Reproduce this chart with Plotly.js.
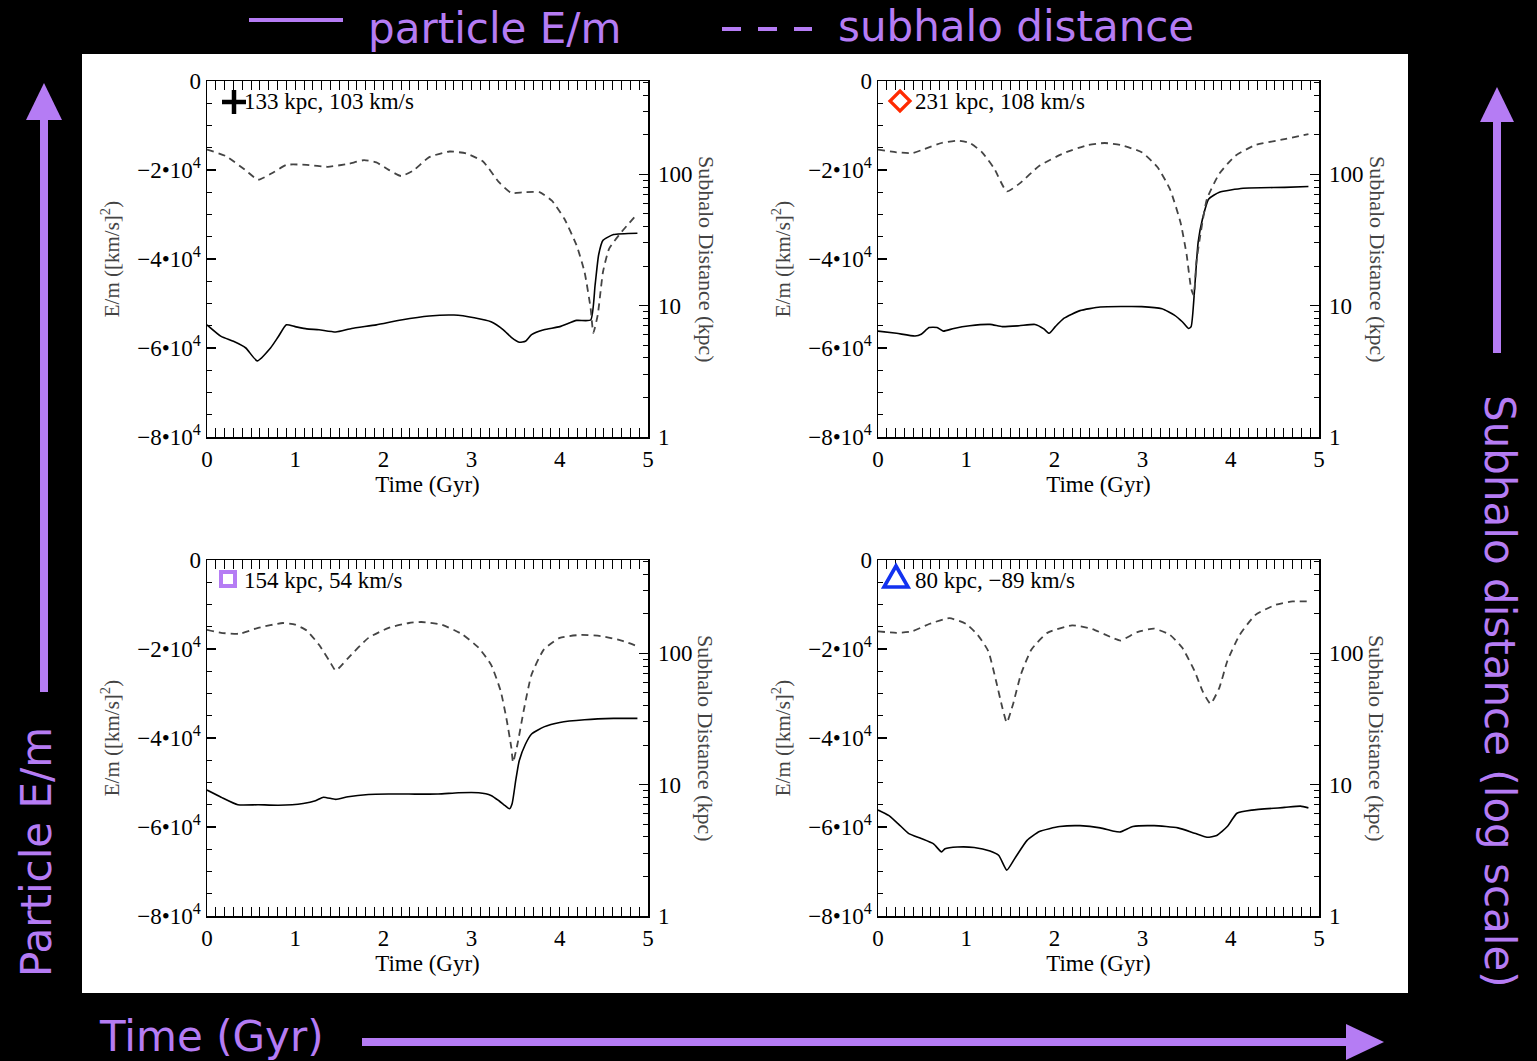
<!DOCTYPE html>
<html><head><meta charset="utf-8">
<script src="https://cdn.plot.ly/plotly-3.0.1.min.js"></script>
<style>html,body{margin:0;padding:0;background:#000;overflow:hidden}#chart{width:1537px;height:1061px}</style>
</head><body><div id="chart"></div><script>
// ---------- data ----------
const panelKeys = ["133 kpc, 103 km/s", "231 kpc, 108 km/s", "154 kpc, 54 km/s", "80 kpc, \u221289 km/s"];

const timeE_A = [0,0.16,0.30,0.44,0.57,0.72,0.81,0.90,1.00,1.13,1.27,1.46,1.64,1.92,2.20,2.52,2.80,3.03,3.22,3.36,3.45,3.54,3.61,3.68,3.82,4.00,4.19,4.35,4.40,4.44,4.49,4.61,4.88];
const energy_A = [-54800,-57400,-58500,-60000,-62900,-60000,-57400,-54800,-55200,-55700,-55900,-56400,-55600,-54800,-53700,-52800,-52600,-53200,-54100,-55900,-57600,-58700,-58500,-57000,-55900,-55200,-53800,-53700,-45900,-39100,-35800,-34500,-34200];
const timeD_A = [0,0.21,0.44,0.58,0.76,0.90,1.13,1.37,1.60,1.78,1.92,2.06,2.20,2.34,2.52,2.75,2.94,3.13,3.31,3.45,3.59,3.77,3.91,4.05,4.19,4.28,4.35,4.38,4.43,4.49,4.56,4.70,4.88];
const dist_A = [154,138,107,91,104,118,118,114,120,128,123,108,97,107,135,149,144,125,87,72,73,73,63,46,28.8,18.1,9.5,6.2,8.5,18.1,27.2,36.4,50];

const timeE_B = [0,0.21,0.42,0.49,0.58,0.67,0.74,0.86,1.04,1.27,1.41,1.60,1.78,1.88,1.94,2.01,2.11,2.29,2.52,2.99,3.22,3.36,3.45,3.52,3.55,3.59,3.63,3.68,3.75,3.87,4.14,4.61,4.88];
const energy_B = [-56200,-56700,-57300,-56900,-55400,-55400,-56200,-55600,-55000,-54700,-55200,-55000,-54700,-55700,-56700,-55200,-53300,-51600,-50800,-50700,-51200,-52600,-54100,-55600,-55200,-46600,-36200,-30900,-26500,-25000,-24100,-23900,-23700];
const timeD_B = [0,0.21,0.39,0.53,0.72,0.90,1.04,1.18,1.32,1.46,1.60,1.83,2.11,2.38,2.57,2.75,2.99,3.17,3.31,3.43,3.50,3.55,3.58,3.61,3.66,3.73,3.87,4.05,4.28,4.61,4.88];
const dist_B = [154,147,145,156,173,180,173,147,110,74,84.5,116,145,167,173,167,147,113,77,43,24.2,13.5,12.0,21.5,36.4,65,101,138,167,185,202];

const timeE_C = [0,0.16,0.35,0.58,0.81,1.09,1.23,1.32,1.46,1.60,1.83,2.06,2.29,2.62,2.85,3.08,3.22,3.31,3.38,3.43,3.46,3.50,3.54,3.61,3.68,3.82,4.00,4.28,4.61,4.88];
const energy_C = [-51700,-53300,-55000,-55000,-55100,-54700,-54100,-53300,-53800,-53200,-52700,-52600,-52600,-52600,-52300,-52300,-52900,-54100,-55200,-55900,-54700,-49600,-45100,-41400,-39100,-37500,-36500,-35900,-35600,-35600];
const timeD_C = [0,0.16,0.37,0.58,0.86,1.00,1.13,1.27,1.39,1.46,1.60,1.83,2.06,2.29,2.43,2.66,2.89,3.08,3.22,3.33,3.40,3.45,3.47,3.52,3.59,3.68,3.82,4.00,4.24,4.47,4.70,4.88];
const dist_C = [151,143,141,156,170,165,149,116,87,74,92,131,156,170,173,165,140,110,82,51.5,30.5,19.2,14.8,20.3,36.4,69,107,131,138,135,125,113];

const timeE_D = [0,0.12,0.23,0.35,0.49,0.63,0.72,0.76,0.90,1.09,1.27,1.37,1.46,1.55,1.69,1.83,2.06,2.29,2.52,2.66,2.75,2.89,3.13,3.40,3.59,3.73,3.84,3.96,4.07,4.24,4.61,4.79,4.88];
const energy_D = [-56200,-57400,-59300,-61500,-62600,-63800,-65600,-64900,-64500,-64600,-65400,-66400,-69700,-67100,-63000,-61000,-59900,-59700,-60200,-60900,-61100,-59900,-59700,-60200,-61400,-62300,-61900,-59900,-56900,-56200,-55600,-55300,-55700];
const timeD_D = [0,0.21,0.39,0.58,0.81,1.00,1.13,1.25,1.34,1.41,1.46,1.53,1.62,1.74,1.92,2.20,2.43,2.66,2.75,2.94,3.13,3.31,3.45,3.59,3.68,3.77,3.87,3.96,4.10,4.28,4.51,4.70,4.88];
const dist_D = [147,143,147,167,185,167,138,104,61,38.5,29.7,40.8,69,107,143,163,153,131,125,145,154,138,110,73,51.5,41.3,54.6,87,138,196,234,248,248];

const energyTickVals = [-80000,-60000,-40000,-20000,0];
const energyTickText = ["\u22128\u202210<sup>4</sup>","\u22126\u202210<sup>4</sup>","\u22124\u202210<sup>4</sup>","\u22122\u202210<sup>4</sup>","0"];
const distTickVals = [1,10,100];
const distTickText = ["1","10","100"];
const distMinorVals = [2,3,4,5,6,7,8,9,20,30,40,50,60,70,80,90,200,300,400,500];
const timeTickVals = [0,1,2,3,4,5];

// ---------- layout helpers ----------
const W = 1537, H = 1061;
const px = x => x / W;
const py = y => 1 - y / H;
const PURPLE = "#B57CF4";
const SERIF = "Liberation Serif, Times New Roman, serif";
const SANS = "DejaVu Sans, Arial, sans-serif";

const panelX = [[207,648],[878,1319],[207,648],[878,1319]];
const panelY = [[81,437],[81,437],[560,916],[560,916]];
const energies = [[timeE_A,energy_A],[timeE_B,energy_B],[timeE_C,energy_C],[timeE_D,energy_D]];
const dists = [[timeD_A,dist_A],[timeD_B,dist_B],[timeD_C,dist_C],[timeD_D,dist_D]];

const traces = [];
const layout = {
  width: W, height: H,
  margin: {l:0, r:0, t:0, b:0, pad:0},
  paper_bgcolor: "#000", plot_bgcolor: "#fff",
  showlegend: false,
  shapes: [], annotations: []
};

const tickFont = {family: SERIF, size: 23, color: "#000"};

for (let i = 0; i < 4; i++) {
  const xn = i === 0 ? "x" : "x" + (i + 1);
  const yl = i === 0 ? "y" : "y" + (2 * i + 1);
  const yr = "y" + (2 * i + 2);
  const xk = i === 0 ? "xaxis" : "xaxis" + (i + 1);
  const ylk = i === 0 ? "yaxis" : "yaxis" + (2 * i + 1);
  const yrk = "yaxis" + (2 * i + 2);

  layout[xk] = {
    domain: [px(panelX[i][0]), px(panelX[i][1])], anchor: yl,
    range: [0, 5], tickmode: "array", tickvals: timeTickVals,
    ticks: "inside", ticklen: 9, tickwidth: 1.2, tickcolor: "#000",
    showline: true, linecolor: "#000", linewidth: 1.5, mirror: "allticks",
    showgrid: false, zeroline: false, fixedrange: true,
    ticklabelstandoff: 1,
    minor: {tickmode: "linear", tick0: 0, dtick: 0.1, ticks: "inside", ticklen: 5, tickwidth: 1, tickcolor: "#000", showgrid: false},
    tickfont: tickFont,
    title: {text: "Time (Gyr)", font: {family: SERIF, size: 23, color: "#000"}, standoff: 3}
  };
  layout[ylk] = {
    domain: [py(panelY[i][1]), py(panelY[i][0])], anchor: xn,
    range: [-80000, 0], tickmode: "array", tickvals: energyTickVals, ticktext: energyTickText,
    ticks: "inside", ticklen: 9, tickwidth: 1.2, tickcolor: "#000",
    showline: true, linecolor: "#000", linewidth: 1.5, mirror: false,
    showgrid: false, zeroline: false, fixedrange: true,
    minor: {tickmode: "linear", tick0: 0, dtick: 5000, ticks: "inside", ticklen: 5, tickwidth: 1, tickcolor: "#000", showgrid: false},
    tickfont: tickFont,
    title: {text: "E/m ([km/s]<sup>2</sup>)", font: {family: SERIF, size: 21, color: "#444"}, standoff: 12}
  };
  layout[yrk] = {
    overlaying: yl, side: "right", anchor: xn, type: "log",
    range: [0, 2.71], tickmode: "array", tickvals: distTickVals, ticktext: distTickText,
    ticks: "inside", ticklen: 9, tickwidth: 1.2, tickcolor: "#000",
    showline: true, linecolor: "#000", linewidth: 1.5,
    showgrid: false, zeroline: false, fixedrange: true,
    ticklabelstandoff: 4,
    minor: {tickmode: "array", tickvals: distMinorVals, ticks: "inside", ticklen: 5, tickwidth: 1, tickcolor: "#000", showgrid: false},
    tickfont: tickFont
  };

  traces.push({
    x: energies[i][0], y: energies[i][1], xaxis: xn, yaxis: yl,
    type: "scatter", mode: "lines", hoverinfo: "skip",
    line: {color: "#000", width: 1.6, shape: "spline", smoothing: 0.5}
  });
  traces.push({
    x: dists[i][0], y: dists[i][1], xaxis: xn, yaxis: yr,
    type: "scatter", mode: "lines", hoverinfo: "skip",
    line: {color: "#444", width: 1.8, dash: "7px,5px", shape: "spline", smoothing: 0.5}
  });

  // key label text
  layout.annotations.push({
    xref: xn + " domain", yref: yl + " domain", x: 0.079, y: 0.942,
    xanchor: "left", yanchor: "middle", showarrow: false,
    text: panelKeys[i], font: {family: SERIF, size: 23, color: "#000"}
  });
  // right-hand axis title (reads top to bottom)
  layout.annotations.push({
    xref: "paper", yref: "paper",
    x: px(panelX[i][1] + 58), y: py((panelY[i][0] + panelY[i][1]) / 2),
    xanchor: "center", yanchor: "middle", textangle: 90, showarrow: false,
    text: "Subhalo Distance (kpc)", font: {family: SERIF, size: 22, color: "#444"}
  });
}

// ---------- decorations ----------
const S = layout.shapes, A = layout.annotations;
// white figure background
S.push({type: "rect", xref: "paper", yref: "paper", x0: px(82), x1: px(1408), y0: py(993), y1: py(54), fillcolor: "#fff", line: {width: 0}, layer: "below"});

function seg(x0, y0, x1, y1, color, w, dash) {
  S.push({type: "line", xref: "paper", yref: "paper", x0: px(x0), y0: py(y0), x1: px(x1), y1: py(y1), line: {color: color, width: w, dash: dash || "solid"}});
}
function poly(pts, color, w, fill) {
  const d = pts.map((p, k) => (k ? "L" : "M") + px(p[0]) + "," + py(p[1])).join(" ") + " Z";
  S.push({type: "path", xref: "paper", yref: "paper", path: d, line: {color: color, width: w}, fillcolor: fill || "rgba(0,0,0,0)"});
}
// panel key symbols
seg(222, 102, 246, 102, "#000", 4.5);
seg(234, 90, 234, 114, "#000", 4.5);
poly([[900, 91], [910, 101], [900, 111], [890, 101]], "#FF2A00", 3.2);
poly([[221, 572], [235, 572], [235, 586], [221, 586]], PURPLE, 4);
poly([[896, 566], [908, 587], [884, 587]], "#1232F0", 3.6);

// header legend
seg(249, 20, 343, 20, PURPLE, 4);
seg(722, 29, 812, 29, PURPLE, 4, "19px,17px");
A.push({xref: "paper", yref: "paper", x: px(366), y: py(28), xanchor: "left", yanchor: "middle", showarrow: false,
  text: "particle E/m", font: {family: SANS, size: 42, color: PURPLE}});
A.push({xref: "paper", yref: "paper", x: px(836), y: py(26), xanchor: "left", yanchor: "middle", showarrow: false,
  text: "subhalo distance", font: {family: SANS, size: 42, color: PURPLE}});

// left arrow + label
seg(44, 692, 44, 112, PURPLE, 8);
poly([[44, 83], [26, 120], [62, 120]], PURPLE, 0, PURPLE);
A.push({xref: "paper", yref: "paper", x: px(36), y: py(852), xanchor: "center", yanchor: "middle", textangle: -90, showarrow: false,
  text: "Particle E/m", font: {family: SANS, size: 42, color: PURPLE}});

// right arrow + label
seg(1497, 353, 1497, 115, PURPLE, 8);
poly([[1497, 87], [1480, 122], [1514, 122]], PURPLE, 0, PURPLE);
A.push({xref: "paper", yref: "paper", x: px(1500), y: py(691), xanchor: "center", yanchor: "middle", textangle: 90, showarrow: false,
  text: "Subhalo distance (log scale)", font: {family: SANS, size: 42, color: PURPLE}});

// bottom arrow + label
seg(362, 1042, 1352, 1042, PURPLE, 8);
poly([[1384, 1042], [1346, 1024], [1346, 1060]], PURPLE, 0, PURPLE);
A.push({xref: "paper", yref: "paper", x: px(211), y: py(1036), xanchor: "center", yanchor: "middle", showarrow: false,
  text: "Time (Gyr)", font: {family: SANS, size: 42, color: PURPLE}});

Plotly.newPlot("chart", traces, layout, {staticPlot: true, displayModeBar: false});
</script></body></html>
